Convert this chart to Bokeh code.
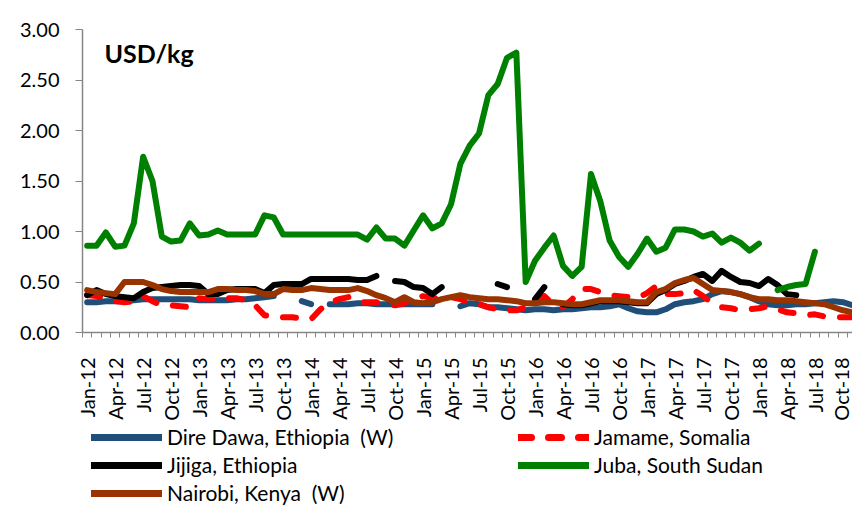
import math
from bokeh.plotting import figure
from bokeh.layouts import column
from bokeh.models import (FixedTicker, NumeralTickFormatter, Range1d, Legend,
                          LegendItem, Label, ColumnDataSource)
from bokeh.embed import file_html
from bokeh.resources import INLINE

nan = float("nan")

# ---------------- data ----------------
month_names = ["Jan", "Feb", "Mar", "Apr", "May", "Jun",
               "Jul", "Aug", "Sep", "Oct", "Nov", "Dec"]
years = ["12", "13", "14", "15", "16", "17", "18"]
months = [f"{m}-{y}" for y in years for m in month_names][:83]   # Jan-12 .. Nov-18

dire_dawa = [0.30, 0.30, 0.31, 0.31, 0.31, 0.32, 0.33, 0.33, 0.33, 0.33, 0.33, 0.33,
             0.32, 0.32, 0.32, 0.32, 0.33, 0.33, 0.34, 0.35, 0.36, nan, nan, 0.31,
             0.28, nan, 0.28, 0.28, 0.28, 0.29, 0.29, 0.28, 0.28, 0.28, 0.28, 0.28,
             0.28, 0.28, nan, nan, 0.26, 0.29, 0.28, 0.25, 0.25, 0.24, 0.23, 0.22,
             0.23, 0.23, 0.22, 0.23, 0.23, 0.24, 0.25, 0.25, 0.26, 0.28, 0.24, 0.21,
             0.20, 0.20, 0.23, 0.28, 0.30, 0.31, 0.33, 0.38, 0.41, 0.40, 0.38, 0.35,
             0.31, 0.28, 0.27, 0.27, 0.28, 0.28, 0.29, 0.30, 0.31, 0.30, 0.27]

jamame = [0.37, 0.36, 0.34, 0.31, 0.30, 0.31, 0.36, 0.31, 0.27, 0.27, 0.26, 0.25,
          0.34, 0.33, 0.33, 0.34, 0.34, 0.32, 0.27, 0.17, 0.16, 0.15, 0.15, 0.14,
          0.13, 0.23, 0.30, 0.33, 0.35, 0.30, 0.30, 0.30, 0.28, 0.27, 0.29, 0.33,
          0.36, 0.34, 0.34, 0.35, 0.33, 0.30, 0.28, 0.25, 0.23, 0.22, 0.22, 0.25,
          0.30, 0.36, 0.27, 0.25, 0.33, 0.43, 0.43, 0.40, 0.37, 0.36, 0.35, 0.34,
          0.39, 0.46, 0.38, 0.38, 0.39, 0.42, 0.36, 0.29, 0.25, 0.24, 0.22, 0.23,
          0.24, 0.26, 0.23, 0.20, 0.19, 0.17, 0.18, 0.16, 0.15, 0.15, 0.15]

jijiga = [0.37, 0.42, 0.38, 0.36, 0.35, 0.34, 0.40, 0.44, 0.45, 0.46, 0.47, 0.47,
          0.46, 0.38, 0.38, 0.42, 0.43, 0.43, 0.43, 0.39, 0.47, 0.48, 0.48, 0.48,
          0.53, 0.53, 0.53, 0.53, 0.53, 0.52, 0.52, 0.56, nan, 0.51, 0.50, 0.45,
          0.44, 0.38, 0.45, nan, nan, nan, nan, nan, 0.48, 0.45, nan, nan,
          0.33, 0.45, nan, 0.28, 0.27, 0.27, 0.29, 0.31, 0.31, 0.31, 0.30, 0.29,
          0.29, 0.38, 0.42, 0.48, 0.51, 0.55, 0.58, 0.51, 0.61, 0.55, 0.50, 0.49,
          0.46, 0.53, 0.47, 0.38, 0.37, nan, nan, nan, nan, nan, nan]

juba = [0.86, 0.86, 0.99, 0.85, 0.86, 1.08, 1.74, 1.50, 0.95, 0.90, 0.91, 1.08,
        0.96, 0.97, 1.01, 0.97, 0.97, 0.97, 0.97, 1.16, 1.14, 0.97, 0.97, 0.97,
        0.97, 0.97, 0.97, 0.97, 0.97, 0.97, 0.92, 1.04, 0.93, 0.93, 0.86, 1.01,
        1.16, 1.03, 1.08, 1.27, 1.67, 1.85, 1.97, 2.35, 2.46, 2.72, 2.77, 0.50,
        0.71, 0.84, 0.96, 0.66, 0.56, 0.65, 1.57, 1.30, 0.91, 0.75, 0.65, 0.78,
        0.93, 0.80, 0.84, 1.02, 1.02, 1.00, 0.95, 0.98, 0.89, 0.94, 0.89, 0.81,
        0.88, nan, 0.42, 0.45, 0.47, 0.48, 0.80, nan, nan, nan, nan]

nairobi = [0.42, 0.40, 0.39, 0.38, 0.50, 0.50, 0.50, 0.47, 0.43, 0.41, 0.40, 0.40,
           0.40, 0.40, 0.43, 0.43, 0.42, 0.42, 0.41, 0.38, 0.38, 0.43, 0.42, 0.42,
           0.44, 0.43, 0.42, 0.42, 0.42, 0.44, 0.41, 0.37, 0.34, 0.30, 0.35, 0.30,
           0.29, 0.30, 0.33, 0.35, 0.37, 0.35, 0.34, 0.33, 0.33, 0.32, 0.31, 0.29,
           0.29, 0.30, 0.30, 0.29, 0.28, 0.28, 0.30, 0.32, 0.32, 0.32, 0.31, 0.30,
           0.30, 0.40, 0.43, 0.49, 0.52, 0.54, 0.48, 0.42, 0.41, 0.40, 0.38, 0.35,
           0.33, 0.33, 0.32, 0.32, 0.31, 0.30, 0.29, 0.28, 0.25, 0.22, 0.20]

series_names = ["Dire Dawa, Ethiopia  (W)", "Jamame, Somalia", "Jijiga, Ethiopia",
                "Juba, South Sudan", "Nairobi, Kenya  (W)"]

label_every = 3
FONT = "Lato"

# ---------------- styles ----------------
STY = {
    "dire": dict(line_color="#1F4E79"),
    "jam": dict(line_color="#FF0000", line_dash="13 17"),
    "jij": dict(line_color="#000000"),
    "juba": dict(line_color="#008000"),
    "nai": dict(line_color="#993300"),
}
LW = 6

idx = list(range(len(months)))
src = ColumnDataSource(dict(x=idx, dire=dire_dawa, jam=jamame, jij=jijiga,
                            juba=juba, nai=nairobi))

# ---------------- main chart ----------------
p = figure(width=852, height=424, output_backend="svg", toolbar_location=None,
           x_range=Range1d(-0.5, 82.03), y_range=Range1d(0, 3),
           min_border_left=82, min_border_right=0, min_border_top=29,
           min_border_bottom=92)
p.outline_line_color = None
p.xgrid.visible = False
p.ygrid.visible = False

for key in ["dire", "jam", "jij", "juba", "nai"]:
    p.line("x", key, source=src, line_width=LW, line_cap="round",
           line_join="round", **STY[key])

AX = "#868686"
xa = p.xaxis[0]
xa.ticker = FixedTicker(ticks=list(range(0, len(months), label_every)),
                        minor_ticks=[k - 0.5 for k in range(0, len(months) + 1)])
xa.major_label_overrides = {i: months[i] for i in range(0, len(months), label_every)}
xa.major_label_orientation = math.pi / 2
xa.major_tick_out = 0
xa.major_tick_in = 0
xa.minor_tick_out = 5
xa.minor_tick_in = 0
xa.minor_tick_line_color = AX
xa.axis_line_color = AX
xa.axis_line_width = 1.5
xa.major_label_standoff = 20
xa.major_label_text_font = FONT
xa.major_label_text_font_size = "20px"
xa.major_label_text_color = "#000000"

ya = p.yaxis[0]
ya.ticker = FixedTicker(ticks=[0, 0.5, 1.0, 1.5, 2.0, 2.5, 3.0])
ya.formatter = NumeralTickFormatter(format="0.00")
ya.major_tick_out = 7
ya.major_tick_in = 0
ya.minor_tick_out = 0
ya.minor_tick_in = 0
ya.major_tick_line_color = AX
ya.axis_line_color = AX
ya.axis_line_width = 1.5
ya.major_label_standoff = 16
ya.major_label_text_font = FONT
ya.major_label_text_font_size = "20px"
ya.major_label_text_color = "#000000"

p.add_layout(Label(x=22, y=295, x_units="screen", y_units="screen", text="USD/kg",
                   text_font=FONT, text_font_style="bold", text_font_size="25px",
                   text_baseline="top", text_color="#000000"))

# ---------------- legend strip ----------------
q = figure(width=852, height=81, output_backend="svg", toolbar_location=None,
           x_range=Range1d(-0.5, 82.03), y_range=Range1d(10, 11),
           min_border_left=82, min_border_right=0, min_border_top=0,
           min_border_bottom=0)
q.outline_line_color = None
q.axis.visible = False
q.xgrid.visible = False
q.ygrid.visible = False

lr = {}
for key in ["dire", "jam", "jij", "juba", "nai"]:
    lr[key] = q.line("x", key, source=src, line_width=LW + 1, line_cap="round",
                     line_join="round", **STY[key])

def make_legend(keys, names, loc):
    lg = Legend(items=[LegendItem(label=n, renderers=[lr[k]]) for k, n in zip(keys, names)],
                location=loc, orientation="vertical",
                glyph_width=71, glyph_height=20, label_height=20, spacing=3,
                label_standoff=5, padding=0, margin=0,
                label_text_font=FONT, label_text_font_size="21px",
                label_text_color="#000000",
                border_line_color=None, background_fill_alpha=0)
    q.add_layout(lg)

make_legend(["dire", "jij", "nai"],
            [series_names[0], series_names[2], series_names[4]], (9, 0))
make_legend(["jam", "juba"], [series_names[1], series_names[3]], (436, 28))

open("out.html", "w").write(file_html(column(p, q, spacing=0), INLINE))
